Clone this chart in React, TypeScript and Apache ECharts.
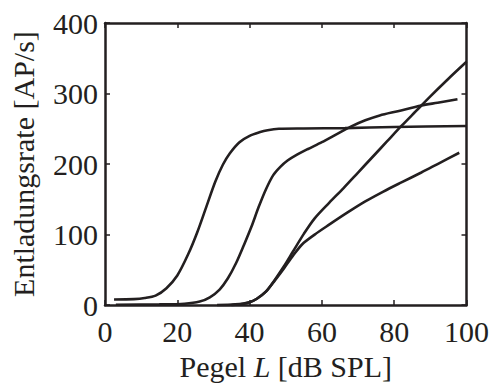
import React, { useEffect, useRef } from "react";
import * as echarts from "echarts";

// Level L in dB SPL and discharge rate in AP/s
const curveA: [number, number][] = [
  [2.5, 8], [8, 8.5], [11, 10], [14, 13.5], [17, 24], [20, 42], [23, 72], [25.5, 103],
  [28, 139], [30.5, 175], [32.6, 199], [34.5, 215], [37.2, 231], [40, 240],
  [42.7, 245], [45, 248], [48.1, 250], [55, 250.5], [66.4, 251], [80, 252.5], [100, 254],
];
const curveB: [number, number][] = [
  [3, 0.5], [15, 1], [22, 2], [26.2, 5], [29, 11], [31.7, 22], [34, 38], [36.3, 60],
  [38.5, 86], [40.5, 111], [42.5, 139], [44.5, 164], [46.5, 184], [48.5, 196],
  [50.5, 205], [53, 213], [56, 221], [60, 231], [64, 242], [68, 253],
  [72, 262], [76, 269], [81, 275], [87.5, 283], [92, 287], [97.5, 292],
];
const curveC: [number, number][] = [
  [31, 0], [36, 1], [40, 4], [42, 9], [44.5, 19], [47, 36], [49.5, 55], [52, 76],
  [55, 101], [58, 123], [62, 145], [66, 166], [70, 188], [74, 210], [78, 232],
  [82, 254], [86, 275], [90, 296], [95, 321], [100, 345],
];
const curveD: [number, number][] = [
  [35, 0], [38, 1.5], [40, 4], [42, 9], [44.5, 19], [47, 35], [49.5, 52], [52, 70], [54.5, 86],
  [58, 100], [62, 114], [67, 131], [72, 147], [77, 161], [82, 174], [87.5, 188],
  [92, 200], [98, 216],
];
const curves = [curveA, curveB, curveC, curveD];

const xName = "{n|Pegel }{i|L}{n| [dB SPL]}";
const yName = "Entladungsrate [AP/s]";

const INK = "#231f20";
const FONT = "Liberation Serif";

export default function App() {
  const ref = useRef<HTMLDivElement>(null);
  useEffect(() => {
    if (!ref.current) return;
    const chart = echarts.init(ref.current, undefined, { renderer: "svg" });
    const axisLine = { show: true, onZero: false, lineStyle: { color: INK, width: 2.5 } };
    const tick = { show: true, inside: true, length: 5, lineStyle: { color: INK, width: 1.5 } };
    const label = { fontSize: 30, fontFamily: FONT, color: INK };
    chart.setOption({
      animation: false,
      backgroundColor: "#ffffff",
      grid: { left: 104.5, right: 23, top: 23, bottom: 73, containLabel: false },
      xAxis: [
        {
          type: "value", position: "bottom", min: 0, max: 100, interval: 20,
          axisLine, axisTick: tick, splitLine: { show: false },
          axisLabel: { ...label, margin: 11 },
          name: xName, nameLocation: "middle", nameGap: 45,
          nameTextStyle: {
            rich: {
              n: { fontSize: 30, fontFamily: FONT, color: INK },
              i: { fontSize: 30, fontFamily: FONT, color: INK, fontStyle: "italic" },
            },
          },
        },
        {
          type: "value", position: "top", min: 0, max: 100, interval: 20,
          axisLine, axisTick: tick, splitLine: { show: false }, axisLabel: { show: false },
        },
      ],
      yAxis: [
        {
          type: "value", position: "left", min: 0, max: 400, interval: 100,
          axisLine, axisTick: tick, splitLine: { show: false },
          axisLabel: { ...label, margin: 7 },
          name: yName, nameLocation: "middle", nameGap: 67,
          nameTextStyle: { fontSize: 30, fontFamily: FONT, color: INK },
        },
        {
          type: "value", position: "right", min: 0, max: 400, interval: 100,
          axisLine, axisTick: tick, splitLine: { show: false }, axisLabel: { show: false },
        },
      ],
      series: curves.map((d) => ({
        type: "line",
        data: d,
        smooth: 0.3,
        symbol: "none",
        silent: true,
        lineStyle: { color: INK, width: 2.6 },
      })),
    });
    return () => chart.dispose();
  }, []);
  return <div ref={ref} style={{ width: 492, height: 386, position: "absolute", left: 0, top: 0 }} />;
}
